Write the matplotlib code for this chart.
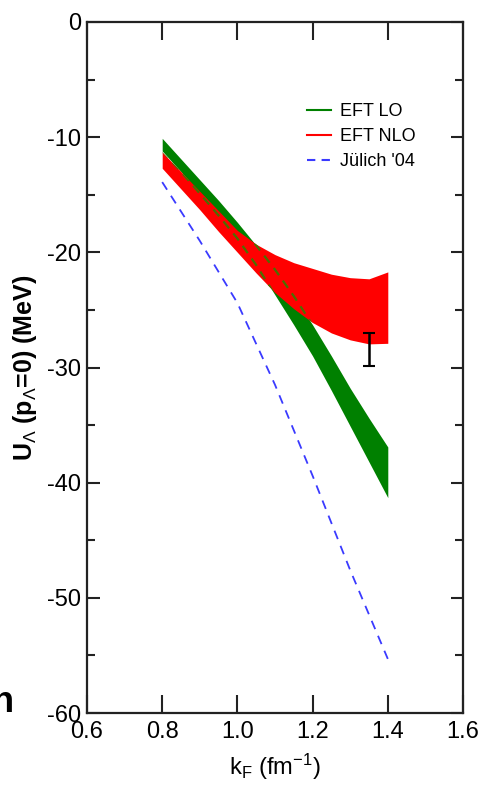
import matplotlib
matplotlib.use("Agg")
import matplotlib.pyplot as plt
import numpy as np

# ---- data ----
kf = [0.8, 0.85, 0.9, 0.95, 1.0, 1.05, 1.1, 1.15, 1.2, 1.25, 1.3, 1.35, 1.4]
lo_upper = [-10.1, -11.9, -13.7, -15.5, -17.4, -19.4, -21.5, -23.8, -26.3, -29.0, -31.8, -34.4, -36.9]
lo_lower = [-11.2, -13.0, -14.9, -16.8, -18.8, -21.1, -23.7, -26.3, -29.0, -32.0, -35.1, -38.2, -41.3]
nlo_upper = [-11.3, -13.0, -14.7, -16.4, -18.1, -19.3, -20.2, -20.9, -21.4, -21.9, -22.2, -22.3, -21.7]
nlo_lower = [-12.7, -14.5, -16.3, -18.2, -20.0, -21.8, -23.5, -24.9, -26.1, -27.0, -27.6, -27.95, -27.9]
juelich_kf = [0.8, 0.9, 1.0, 1.1, 1.2, 1.3, 1.4]
juelich = [-13.9, -19.0, -24.4, -31.5, -39.4, -47.6, -55.3]
exp_x = [1.35]
exp_y = [-28.45]
exp_err = [1.45]
legend_labels = ["EFT LO", "EFT NLO", "J\u00fclich '04"]
xticks = [0.6, 0.8, 1.0, 1.2, 1.4, 1.6]
yticks = [0, -10, -20, -30, -40, -50, -60]

plt.rcParams['font.family'] = ['Liberation Sans', 'DejaVu Sans']
plt.rcParams['mathtext.fontset'] = 'custom'
plt.rcParams['mathtext.rm'] = 'Liberation Sans'
plt.rcParams['mathtext.it'] = 'Liberation Sans'
plt.rcParams['mathtext.bf'] = 'Liberation Sans:bold'

fig = plt.figure(figsize=(4.82, 7.89), dpi=100)
ax = fig.add_axes([87/482, 1-713/789, (463-87)/482, (713-22)/789])

green = '#008000'
red = '#ff0000'
blue = '#3a3aff'

ax.fill_between(kf, lo_lower, lo_upper, color=green, lw=0, zorder=2)
red_poly = ax.fill_between(kf, nlo_lower, nlo_upper, color=red, lw=0, zorder=3)
clip_path = red_poly.get_paths()[0]
for edge in (lo_upper, lo_lower):
    ln, = ax.plot(kf, edge, color='#4a7000', lw=1.6, ls=(0, (4, 3)), zorder=4)
    ln.set_clip_path(clip_path, ax.transData)
ax.plot(juelich_kf, juelich, color=blue, lw=1.3, ls=(0, (5, 4)), zorder=4)
ax.errorbar(exp_x, exp_y, yerr=exp_err, fmt='none', ecolor='black',
            elinewidth=1.8, capsize=4, capthick=1.5, zorder=5)

# legend proxies
h1, = ax.plot([], [], color=green, lw=1.5)
h2, = ax.plot([], [], color=red, lw=1.5)
h3, = ax.plot([], [], color=blue, lw=1.5, ls=(0, (4, 3)))
leg = ax.legend([h1, h2, h3], legend_labels, loc='upper left',
                bbox_to_anchor=(0.565, 0.893), frameon=False, fontsize=13,
                handlelength=1.35, handletextpad=0.5, labelspacing=0.45,
                borderaxespad=0)

ax.set_xlim(0.6, 1.6)
ax.set_ylim(-60, 0)
ax.set_xticks(xticks)
ax.set_xticklabels(['%.1f' % v for v in xticks])
ax.set_yticks(yticks)
ax.set_yticklabels(['%d' % v for v in yticks])
ax.set_yticks(np.arange(-55, 0, 10), minor=True)

for s in ax.spines.values():
    s.set_linewidth(1.6)
    s.set_color('#222222')
ax.tick_params(which='major', direction='in', top=True, right=True,
               width=1.5, color='#222222', labelsize=17)
ax.tick_params(axis='x', which='major', length=13, pad=6)
ax.tick_params(axis='y', which='major', length=9, pad=4)
ax.tick_params(axis='y', which='minor', direction='in', right=True,
               length=6, width=1.5, color='#222222')

ax.set_xlabel('k$_\\mathregular{F}$ (fm$^\\mathregular{-1}$)', fontsize=17, labelpad=6)
ax.set_ylabel('U$_\\Lambda$ (p$_\\Lambda$=0) (MeV)', fontsize=18,
              fontweight='bold', labelpad=6)

fig.text(-0.018, 0.098, 'n', fontsize=26, fontweight='bold',
         family='Liberation Sans', ha='left', va='baseline')

fig.savefig('out.png', dpi=100)
